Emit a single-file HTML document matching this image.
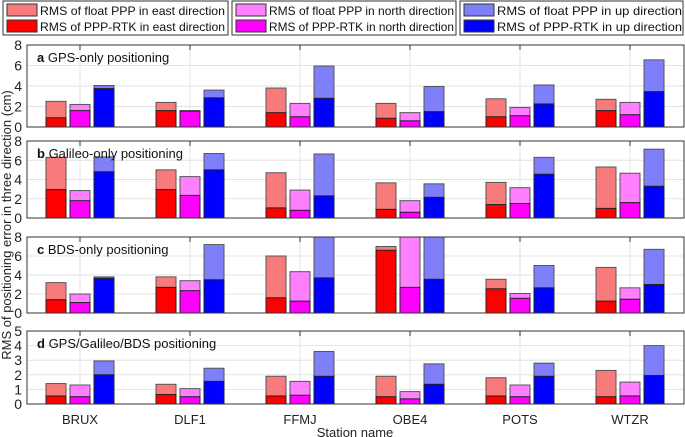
<!DOCTYPE html>
<html><head><meta charset="utf-8"><style>
body{margin:0;background:#fff;}
svg{display:block;font-family:"Liberation Sans",Arial,sans-serif;}
</style></head><body>
<svg id="chart" width="685" height="437"></svg>
<script>
const stations=["BRUX","DLF1","FFMJ","OBE4","POTS","WTZR"];
const panelTitles=["GPS-only positioning","Galileo-only positioning","BDS-only positioning","GPS/Galileo/BDS positioning"];
const panelLetters=["a","b","c","d"];
const panelMax=[8,8,8,5];
const eastFloat=[[2.5,2.4,3.8,2.3,2.75,2.7],[6.3,5.0,4.7,3.65,3.7,5.3],[3.2,3.8,6.0,7.0,3.55,4.8],[1.4,1.35,1.9,1.9,1.8,2.3]];
const eastRtk=[[0.9,1.6,1.4,0.85,1.0,1.6],[2.95,2.95,1.05,0.9,1.4,1.0],[1.4,2.7,1.6,6.6,2.55,1.25],[0.55,0.65,0.55,0.5,0.55,0.5]];
const northFloat=[[2.2,1.6,2.3,1.4,1.9,2.4],[2.85,4.3,2.9,1.8,3.15,4.65],[2.0,3.4,4.35,9,2.05,2.65],[1.3,1.05,1.55,0.85,1.3,1.5]];
const northRtk=[[1.6,1.55,1.0,0.6,1.1,1.2],[1.8,2.35,0.8,0.6,1.5,1.6],[1.1,2.35,1.25,2.7,1.55,1.45],[0.5,0.5,0.6,0.35,0.5,0.55]];
const upFloat=[[4.05,3.6,5.95,3.95,4.1,6.55],[6.35,6.7,6.65,3.55,6.3,7.15],[3.8,7.2,9,9,5.0,6.7],[2.95,2.45,3.6,2.75,2.8,4.0]];
const upRtk=[[3.75,2.85,2.8,1.5,2.25,3.45],[4.8,5.0,2.3,2.15,4.55,3.3],[3.65,3.5,3.7,3.55,2.65,3.0],[2.0,1.55,1.9,1.35,1.9,1.95]];

const NS="http://www.w3.org/2000/svg";
const svg=document.getElementById("chart");
function mk(t,a,p){const e=document.createElementNS(NS,t);for(const k in a)e.setAttribute(k,a[k]);(p||svg).appendChild(e);return e;}
const X0=27,X1=684;
const panelTop=[45,141,237,331],panelBot=[127,218,313,404];
function xC(i){return 80+110*i;}
const offs=[-24,0,24],bw=20;
const lightC=["#f87b7b","#ff80ff","#7f7ff9"],darkC=["#ff0000","#ff00ff","#0000ff"];
const fl=[eastFloat,northFloat,upFloat],rt=[eastRtk,northRtk,upRtk];
const dirs=["east","north","up"];

for(let p=0;p<4;p++){
  const g=mk("g",{});
  
  
  const top=panelTop[p],bot=panelBot[p],mx=panelMax[p];
  const y=v=>bot-(Math.min(v,mx)/mx)*(bot-top);
  mk("rect",{x:X0,y:top,width:X1-X0,height:bot-top,fill:"#fff"},g);
  for(let t=0;t<=mx;t+=(mx==8?2:1)){
    mk("line",{x1:X0,x2:X1,y1:y(t),y2:y(t),stroke:"#e3e3e3","stroke-width":1},g);
    const tl=mk("text",{x:22,y:y(t)+5,"text-anchor":"end","font-size":14,fill:"#222"},g);
    tl.textContent=t;
    
    
  }
  for(let i=0;i<stations.length;i++){
    mk("line",{x1:xC(i),x2:xC(i),y1:top,y2:bot,stroke:"#e3e3e3"},g);
    mk("line",{x1:xC(i),x2:xC(i),y1:top,y2:top+5,stroke:"#333"},g);
  }
  for(let d=0;d<3;d++)for(let i=0;i<stations.length;i++){
    const x=xC(i)+offs[d]-bw/2;
    const f=fl[d][p][i],r=rt[d][p][i];
    const b1=mk("rect",{x:x,y:y(f),width:bw,height:bot-y(f),fill:lightC[d],stroke:"#555","stroke-width":1},g);
    
    
    const b2=mk("rect",{x:x,y:y(r),width:bw,height:bot-y(r),fill:darkC[d],stroke:"#222","stroke-width":1},g);
    
    
  }
  mk("rect",{x:X0,y:top,width:X1-X0,height:bot-top,fill:"none",stroke:"#333","stroke-width":1},g);
  const tt=mk("text",{x:37,y:top+17,"font-size":13,fill:"#111"},g);
  tt.innerHTML='<tspan font-weight="bold">'+panelLetters[p]+'</tspan> '+panelTitles[p];
  
  
}
for(let i=0;i<stations.length;i++){
  const t=mk("text",{x:xC(i),y:424,"text-anchor":"middle","font-size":13,fill:"#222"});
  t.textContent=stations[i];
  
  
}
const xt=mk("text",{x:355,y:437,"text-anchor":"middle","font-size":13,fill:"#222"});
xt.textContent="Station name";


const yt=mk("text",{x:0,y:0,"text-anchor":"middle","font-size":13,fill:"#222",transform:"translate(11,225) rotate(-90)"});
yt.textContent="RMS of positioning error in three direction (cm)";



// legend
const legTexts=[["RMS of float PPP in east direction","RMS of PPP-RTK in east direction"],["RMS of float PPP in north direction","RMS of PPP-RTK in north direction"],["RMS of float PPP in up direction","RMS of PPP-RTK in up direction"]];
const legX=[3,232,460],legW=[225,224,223];
for(let c=0;c<3;c++){
  mk("rect",{x:legX[c],y:1,width:legW[c],height:34,fill:"#fff",stroke:"#333"});
  for(let r=0;r<2;r++){
    const yy=3+r*16;
    const sw=mk("rect",{x:legX[c]+4,y:yy+1,width:30,height:12,fill:r?darkC[c]:lightC[c],stroke:"#333"});
    
    
    const t=mk("text",{x:legX[c]+37,y:yy+12,"font-size":12,fill:"#111",textLength:185,lengthAdjust:"spacingAndGlyphs"});
    t.textContent=legTexts[c][r];
    
    
  }
}
</script>
</body></html>
